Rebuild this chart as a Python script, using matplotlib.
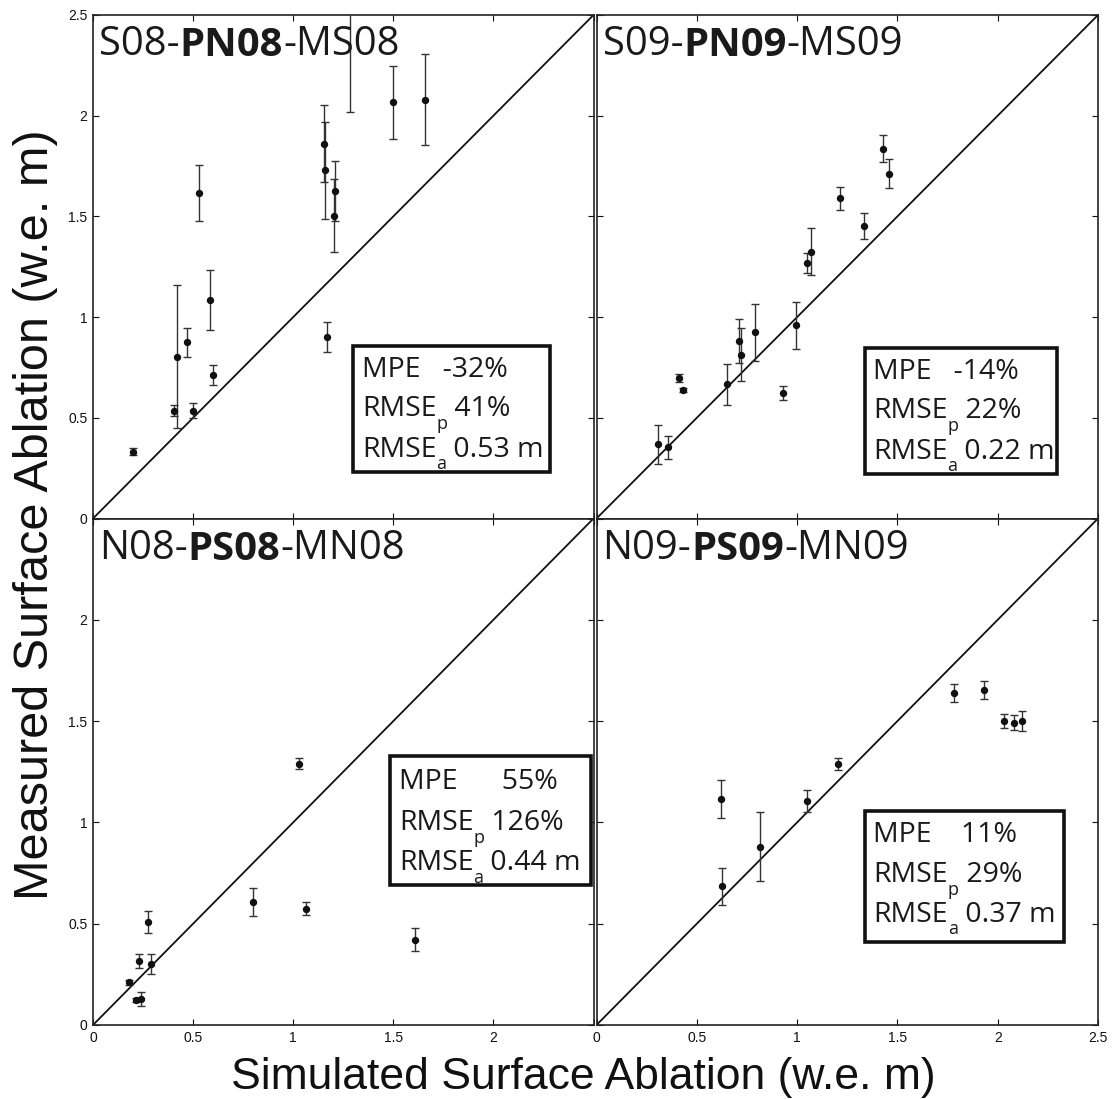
import matplotlib
matplotlib.use("Agg")
import matplotlib.pyplot as plt
from matplotlib.patches import Rectangle

# ---- data: simulated vs measured surface ablation (w.e. m) ----
# S08-PN08-MS08
s08_sim = [0.198, 0.405, 0.420, 0.472, 0.500, 0.530, 0.582, 0.597,
           1.153, 1.160, 1.168, 1.203, 1.211, 1.286, 1.497, 1.659]
s08_meas = [0.332, 0.536, 0.804, 0.874, 0.536, 1.618, 1.085, 0.713,
            1.861, 1.730, 0.902, 1.503, 1.627, 2.620, 2.066, 2.080]
s08_err = [0.019, 0.028, 0.355, 0.070, 0.036, 0.139, 0.149, 0.051,
           0.192, 0.241, 0.073, 0.182, 0.149, 0.600, 0.180, 0.227]

# S09-PN09-MS09
s09_sim = [0.307, 0.357, 0.410, 0.432, 0.651, 0.711, 0.719, 0.791,
           0.930, 0.997, 1.047, 1.070, 1.216, 1.333, 1.427, 1.457]
s09_meas = [0.368, 0.353, 0.697, 0.637, 0.667, 0.881, 0.814, 0.924,
            0.623, 0.960, 1.267, 1.325, 1.589, 1.451, 1.837, 1.713]
s09_err = [0.097, 0.056, 0.020, 0.010, 0.102, 0.110, 0.130, 0.143,
           0.033, 0.116, 0.050, 0.118, 0.059, 0.065, 0.069, 0.070]

# N08-PS08-MN08
n08_sim = [0.179, 0.216, 0.238, 0.231, 0.288, 0.274, 0.801, 1.029,
           1.065, 1.609]
n08_meas = [0.210, 0.125, 0.130, 0.314, 0.301, 0.510, 0.605, 1.290,
            0.575, 0.421]
n08_err = [0.012, 0.010, 0.034, 0.034, 0.051, 0.055, 0.069, 0.026,
           0.030, 0.058]

# N09-PS09-MN09
n09_sim = [0.620, 0.626, 0.815, 1.049, 1.204, 1.782, 1.930, 2.031,
           2.083, 2.121]
n09_meas = [1.115, 0.685, 0.880, 1.107, 1.288, 1.640, 1.654, 1.501,
            1.493, 1.501]
n09_err = [0.095, 0.092, 0.171, 0.054, 0.031, 0.044, 0.046, 0.033,
           0.039, 0.048]

titles = [("S08-", "PN08", "-MS08"), ("S09-", "PN09", "-MS09"),
          ("N08-", "PS08", "-MN08"), ("N09-", "PS09", "-MN09")]

mpe_text = ["-32%", "-14%", "55%", "11%"]
rmsep_text = ["41%", "22%", "126%", "29%"]
rmsea_text = ["0.53 m", "0.22 m", "0.44 m", "0.37 m"]

tick_vals = [0, 0.5, 1, 1.5, 2, 2.5]
tick_labels = ["0", "0.5", "1", "1.5", "2", "2.5"]

# ---- figure layout ----
W, H = 1117, 1099
fig = plt.figure(figsize=(W / 100, H / 100), dpi=100)

def px_rect(x0, x1, y0, y1):
    return [x0 / W, 1 - y1 / H, (x1 - x0) / W, (y1 - y0) / H]

axes = [
    fig.add_axes(px_rect(93, 593.5, 15, 518.5)),
    fig.add_axes(px_rect(596.5, 1098, 15, 518.5)),
    fig.add_axes(px_rect(93, 593.5, 518.5, 1025)),
    fig.add_axes(px_rect(596.5, 1098, 518.5, 1025)),
]

panels = [(s08_sim, s08_meas, s08_err), (s09_sim, s09_meas, s09_err),
          (n08_sim, n08_meas, n08_err), (n09_sim, n09_meas, n09_err)]

TXT_FONT = ["Open Sans", "DejaVu Sans"]
TICK_FONT = ["Liberation Sans", "DejaVu Sans"]
INK = "#1a1a1a"

# stat box placement in axes fractions: (x0, x1, y0, y1, text_x, baselines)
box_spec = [
    (0.519, 0.914, 0.092, 0.3425, 0.537, (0.281, 0.203, 0.123)),
    (0.535, 0.918, 0.089, 0.338, 0.551, (0.277, 0.199, 0.119)),
    (0.593, 0.995, 0.277, 0.532, 0.611, (0.465, 0.385, 0.306)),
    (0.535, 0.932, 0.164, 0.423, 0.552, (0.361, 0.282, 0.204)),
]
mpe_pad = ["   ", "   ", "      ", "    "]
BOX_FS = 20.5
SUB_FS = 13
SUB_DROP = 0.025


def stat_line(ax, x, yb, head, sub, value):
    t = ax.text(x, yb, head, transform=ax.transAxes, fontsize=BOX_FS,
                family=TXT_FONT, va="baseline", color=INK, zorder=5)
    s = ax.annotate(sub, xy=(1, yb - SUB_DROP), xycoords=(t, ax.transAxes),
                    fontsize=SUB_FS, family=TXT_FONT, va="baseline",
                    color=INK, zorder=5)
    ax.annotate(value, xy=(1, yb), xycoords=(s, ax.transAxes),
                fontsize=BOX_FS, family=TXT_FONT, va="baseline",
                color=INK, zorder=5)


for i, ax in enumerate(axes):
    xs, ys, es = panels[i]
    ax.set_xlim(0, 2.5)
    ax.set_ylim(0, 2.5)

    # 1:1 reference line
    ax.plot([0, 2.5], [0, 2.5], color="#111111", lw=1.3, zorder=2)

    ax.errorbar(xs, ys, yerr=es, fmt="o", color="#111111", ms=4.3,
                ecolor="#333333", elinewidth=1.0, capsize=3, capthick=1.0,
                zorder=3)

    # ticks: inward on all four sides
    ax.set_xticks(tick_vals)
    ax.set_yticks(tick_vals)
    ax.tick_params(direction="in", length=4.5, width=0.8, top=True,
                   right=True, labelsize=10, colors="#111111", pad=4)
    if i in (0, 2):
        ylabs = tick_labels if i == 0 else tick_labels[:-1] + [""]
        ax.set_yticklabels(ylabs)
    else:
        ax.set_yticklabels([])
    if i in (2, 3):
        xlabs = tick_labels if i == 3 else tick_labels[:-1] + [""]
        ax.set_xticklabels(xlabs)
    else:
        ax.set_xticklabels([])
    for lab in ax.get_xticklabels() + ax.get_yticklabels():
        lab.set_family(TICK_FONT)
    for sp in ax.spines.values():
        sp.set_linewidth(1.2)
        sp.set_color("#222222")

    # panel title with bold middle part
    pre, mid, post = titles[i]
    t1 = ax.text(0.012, 0.921, pre, transform=ax.transAxes, fontsize=28.8,
                 family=TXT_FONT, va="baseline", color=INK)
    t2 = ax.annotate(mid, xy=(1, 0), xycoords=t1, fontsize=28.8,
                     fontweight="bold", family=TXT_FONT, va="bottom",
                     color=INK)
    ax.annotate(post, xy=(1, 0), xycoords=t2, fontsize=28.8,
                family=TXT_FONT, va="bottom", color=INK)

    # statistics box
    bx0, bx1, by0, by1, tx, bl = box_spec[i]
    ax.add_patch(Rectangle((bx0, by0), bx1 - bx0, by1 - by0,
                           transform=ax.transAxes, fill=True, fc="white",
                           ec="#111111", lw=2.6, zorder=4))
    ax.text(tx, bl[0], "MPE" + mpe_pad[i] + mpe_text[i],
            transform=ax.transAxes, fontsize=BOX_FS, family=TXT_FONT,
            va="baseline", color=INK, zorder=5)
    stat_line(ax, tx, bl[1], "RMSE", "p", " " + rmsep_text[i])
    stat_line(ax, tx, bl[2], "RMSE", "a", " " + rmsea_text[i])

fig.text(36 / W, 1 - 515 / H, "Measured Surface Ablation (w.e. m)",
         rotation=90, ha="center", va="center", fontsize=35,
         family=TICK_FONT, color="#111111")
fig.text(583 / W, 1 - 1089 / H, "Simulated Surface Ablation (w.e. m)",
         ha="center", va="baseline", fontsize=32, family=TICK_FONT,
         color="#111111")

fig.savefig("out.png", dpi=100)
